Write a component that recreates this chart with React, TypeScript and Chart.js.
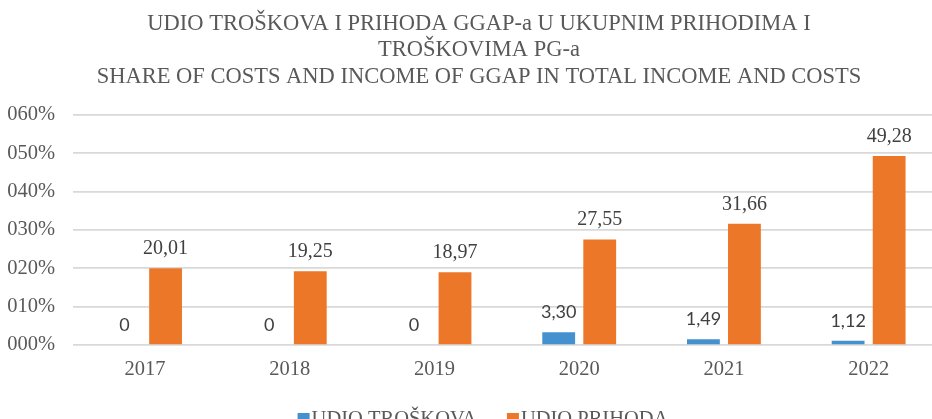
import React, { useEffect, useRef } from "react";
import { Chart, registerables } from "chart.js";

Chart.register(...registerables);

const categories = ["2017", "2018", "2019", "2020", "2021", "2022"];
const udioTroskova = [0, 0, 0, 3.3, 1.49, 1.12];
const udioPrihoda = [20.01, 19.25, 18.97, 27.55, 31.66, 49.28];
const seriesNames = ["UDIO TROŠKOVA", "UDIO PRIHODA"];
const titleLines = [
  "UDIO TROŠKOVA I PRIHODA GGAP-a U UKUPNIM PRIHODIMA I",
  "TROŠKOVIMA PG-a",
  "SHARE OF COSTS AND INCOME OF GGAP IN TOTAL INCOME AND COSTS",
];
const yTicks = [0, 10, 20, 30, 40, 50, 60];

const BLUE = "#4590CE";
const ORANGE = "#ED7728";
const SERIF = "'Liberation Serif', 'Times New Roman', serif";
const SANS = "Lato, 'Open Sans', sans-serif";

const fmt = (v: number) => (v === 0 ? "0" : v.toFixed(2).replace(".", ","));

const dataLabelPlugin = {
  id: "dataLabels",
  afterDatasetsDraw(chart: any) {
    const ctx = chart.ctx;
    ctx.save();
    ctx.textAlign = "center";
    ctx.textBaseline = "alphabetic";
    chart.data.datasets.forEach((ds: any, di: number) => {
      const meta = chart.getDatasetMeta(di);
      ctx.font = di === 0 ? `18px ${SANS}` : `20px ${SERIF}`;
      ctx.fillStyle = "#404040";
      meta.data.forEach((el: any, i: number) => {
        ctx.fillText(fmt(ds.data[i]), el.x, el.y - 14);
      });
    });
    ctx.restore();
  },
};

const titlePlugin = {
  id: "customTitle",
  afterDraw(chart: any) {
    const ctx = chart.ctx;
    ctx.save();
    ctx.font = `22.5px ${SERIF}`;
    ctx.fillStyle = "#595959";
    ctx.textAlign = "center";
    ctx.textBaseline = "alphabetic";
    const cx = 479;
    const ys = [29.5, 56, 82.5];
    titleLines.forEach((t, i) => ctx.fillText(t, cx, ys[i]));
    ctx.restore();
  },
};

const legendPlugin = {
  id: "customLegend",
  afterDraw(chart: any) {
    const ctx = chart.ctx;
    ctx.save();
    ctx.font = `20.5px ${SERIF}`;
    ctx.textBaseline = "middle";
    const box = 12;
    const gapBoxText = 2;
    const gapItems = 30;
    const colors = [BLUE, ORANGE];
    const widths = seriesNames.map((n) => box + gapBoxText + ctx.measureText(n).width);
    const total = widths.reduce((a, b) => a + b, 0) + gapItems;
    let x = 483 - total / 2;
    const cy = 419;
    seriesNames.forEach((n, i) => {
      ctx.fillStyle = colors[i];
      ctx.fillRect(x, cy - box / 2, box, box);
      ctx.fillStyle = "#595959";
      ctx.textAlign = "left";
      ctx.fillText(n, x + box + gapBoxText, cy + 1);
      x += widths[i] + gapItems;
    });
    ctx.restore();
  },
};

export default function App() {
  const ref = useRef<HTMLCanvasElement>(null);
  useEffect(() => {
    if (!ref.current) return;
    const chart = new Chart(ref.current, {
      type: "bar",
      data: {
        labels: categories,
        datasets: [
          {
            label: seriesNames[0],
            data: udioTroskova,
            backgroundColor: BLUE,
            categoryPercentage: 0.567,
            barPercentage: 0.8,
          },
          {
            label: seriesNames[1],
            data: udioPrihoda,
            backgroundColor: ORANGE,
            categoryPercentage: 0.567,
            barPercentage: 0.8,
          },
        ],
      },
      options: {
        animation: false,
        responsive: true,
        maintainAspectRatio: false,
        layout: { padding: { left: 6, right: 17, top: 115, bottom: 47 } },
        plugins: {
          legend: { display: false },
          tooltip: { enabled: false },
          title: { display: false },
        },
        scales: {
          x: {
            grid: { display: false },
            border: { display: false },
            afterFit: (axis: any) => {
              axis.height = 40;
            },
            ticks: {
              color: "#595959",
              font: { family: SERIF, size: 20.5 },
              padding: 4,
            },
          },
          y: {
            min: 0,
            max: 60,
            afterBuildTicks: (axis: any) => {
              axis.ticks = yTicks.map((v) => ({ value: v }));
            },
            afterFit: (axis: any) => {
              axis.width = 66.7;
            },
            grid: { color: "#D9D9D9", lineWidth: 1.75, drawTicks: false },
            border: { display: false },
            ticks: {
              color: "#595959",
              font: { family: SERIF, size: 20.5 },
              padding: 17.5,
              callback: (v: any) => String(v).padStart(3, "0") + "%",
            },
          },
        },
      },
      plugins: [dataLabelPlugin, titlePlugin, legendPlugin],
    });
    return () => chart.destroy();
  }, []);
  return (
    <div
      style={{
        position: "fixed",
        left: 0,
        top: 0,
        width: 958,
        height: 432,
        background: "#fff",
      }}
    >
      <canvas ref={ref} />
    </div>
  );
}
